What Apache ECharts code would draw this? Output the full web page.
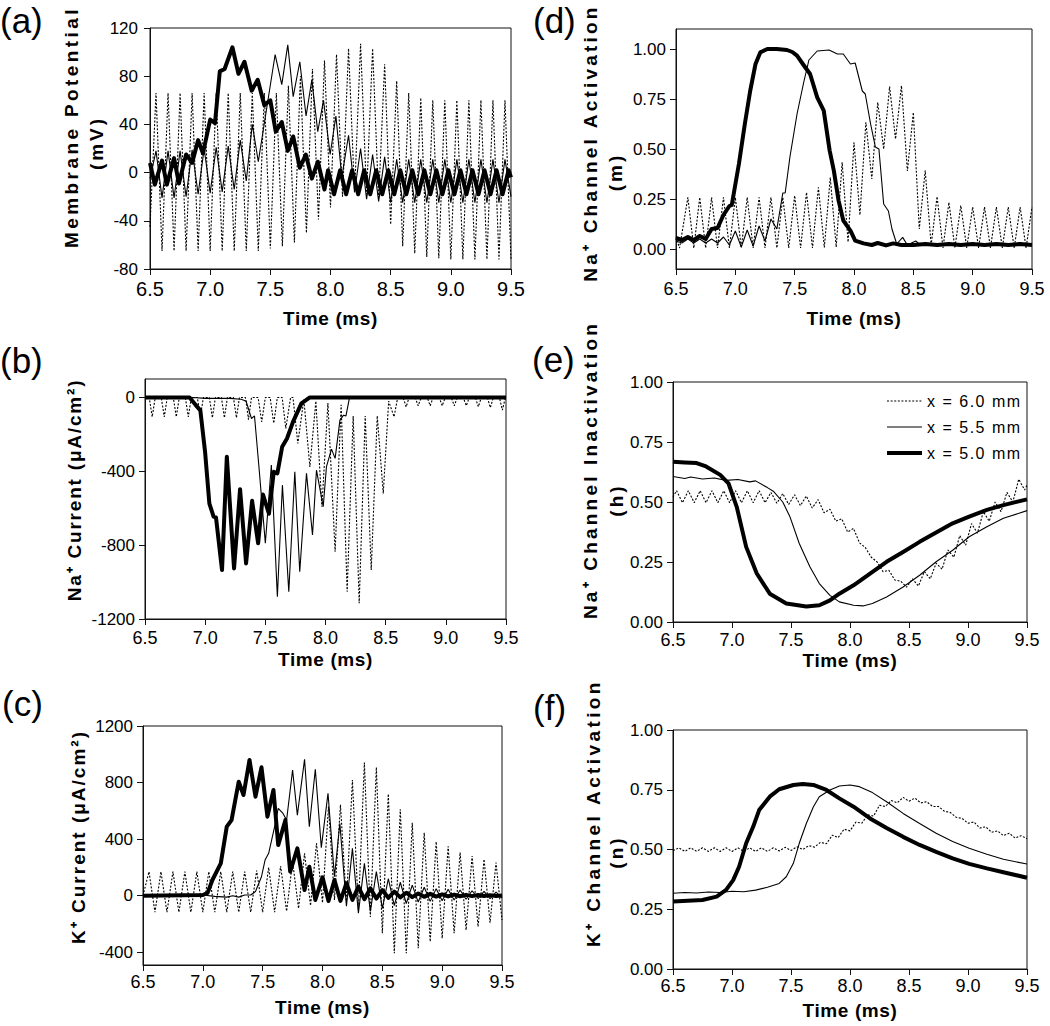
<!DOCTYPE html>
<html><head><meta charset="utf-8">
<script src="https://cdn.jsdelivr.net/npm/echarts@6/dist/echarts.min.js"></script>
<style>html,body{margin:0;padding:0;background:#fff}#c{width:1050px;height:1026px}</style>
</head><body><div id="c"></div>
<script>
// ---------- data ----------
const seriesNames = ['x = 6.0 mm', 'x = 5.5 mm', 'x = 5.0 mm'];
const timeTicks = [6.5, 7.0, 7.5, 8.0, 8.5, 9.0, 9.5];
const aTicks = [-80, -40, 0, 40, 80, 120];
const bTicks = [-1200, -800, -400, 0];
const cTicks = [-400, 0, 400, 800, 1200];
const gateTicks = [0, 0.25, 0.5, 0.75, 1.0];

// (a) membrane potential
const aDot = [[6.5,-45],[6.55,66],[6.6,-65],[6.65,66],[6.7,-65],[6.75,66],[6.8,-65],[6.85,66],[6.9,-65],[6.95,66],[7.0,-65],[7.05,66],[7.1,-65],[7.15,66],[7.2,-65],[7.25,66],[7.3,-65],[7.35,66],[7.4,-65],[7.45,66],[7.5,-63],[7.55,66],[7.6,-61],[7.65,72],[7.7,-58],[7.75,80],[7.8,-50],[7.85,86],[7.9,-39],[7.95,93],[8.0,-29],[8.05,98],[8.1,-20],[8.15,103],[8.2,-17],[8.25,107],[8.3,-18],[8.35,103],[8.4,-22],[8.45,90],[8.5,-43],[8.55,76],[8.6,-61],[8.65,66],[8.7,-67],[8.75,62],[8.8,-70],[8.85,60],[8.9,-71],[8.95,60],[9.0,-72],[9.05,60],[9.1,-72],[9.15,60],[9.2,-72],[9.25,60],[9.3,-72],[9.35,60],[9.4,-72],[9.45,60],[9.5,-72]];
const aThin = [[6.5,-5],[6.55,18],[6.6,-21],[6.65,18],[6.7,-21],[6.75,18],[6.8,-20],[6.85,19],[6.9,-18],[6.95,20],[7.0,-17],[7.05,21],[7.1,-16],[7.15,22],[7.2,-14],[7.25,27],[7.3,-7],[7.35,40],[7.4,9],[7.54,98],[7.595,73],[7.645,106],[7.69,63],[7.745,92],[7.797,47],[7.845,77],[7.894,34],[7.942,60],[7.997,15],[8.045,47],[8.094,-4],[8.15,31],[8.2,-16],[8.25,20],[8.3,-22],[8.35,15],[8.4,-24],[8.45,13],[8.5,-25],[8.55,11],[8.6,-25],[8.65,11],[8.7,-25],[8.75,11],[8.8,-25],[8.85,11],[8.9,-25],[8.95,11],[9.0,-25],[9.05,11],[9.1,-25],[9.15,11],[9.2,-25],[9.25,11],[9.3,-25],[9.35,11],[9.4,-25],[9.45,11],[9.5,-20]];
const aThick = [[6.5,8],[6.54,-10],[6.6,10],[6.64,-10],[6.7,12],[6.74,-9],[6.8,15],[6.85,8],[6.9,27],[6.94,16],[7.0,44],[7.04,41],[7.08,84],[7.12,86],[7.185,104],[7.235,82],[7.285,92],[7.345,68],[7.395,77],[7.45,56],[7.5,60],[7.545,34],[7.595,42],[7.645,18],[7.69,30],[7.745,4],[7.795,15],[7.845,-5],[7.895,9],[7.95,-14],[7.98,2],[8.03,-18],[8.08,2],[8.13,-18],[8.18,2],[8.23,-18],[8.28,2],[8.33,-18],[8.38,2],[8.43,-18],[8.48,2],[8.53,-18],[8.58,2],[8.63,-18],[8.68,2],[8.73,-18],[8.78,2],[8.83,-18],[8.88,2],[8.93,-18],[8.98,2],[9.03,-18],[9.08,2],[9.13,-18],[9.18,2],[9.23,-18],[9.28,2],[9.33,-18],[9.38,2],[9.43,-18],[9.48,2],[9.5,-4]];

// (b) Na current
const bDot = [[6.5,0],[6.535,0],[6.56,-105],[6.585,0],[6.635,0],[6.66,-105],[6.685,0],[6.735,0],[6.76,-105],[6.785,0],[6.835,0],[6.86,-105],[6.885,0],[6.935,0],[6.96,-105],[6.985,0],[7.035,0],[7.06,-110],[7.085,0],[7.135,0],[7.16,-110],[7.185,0],[7.235,0],[7.26,-110],[7.285,0],[7.335,0],[7.36,-120],[7.385,0],[7.44,0],[7.47,-132],[7.5,0],[7.54,0],[7.57,-140],[7.6,0],[7.64,0],[7.67,-168],[7.71,0],[7.73,0],[7.77,-249],[7.82,-10],[7.87,-376],[7.92,-20],[7.97,-592],[8.02,-30],[8.08,-836],[8.13,-40],[8.18,-1052],[8.23,-100],[8.28,-1115],[8.33,-100],[8.38,-935],[8.43,-100],[8.48,-520],[8.525,-20],[8.57,-105],[8.6,0],[8.645,0],[8.67,-51],[8.695,0],[8.745,0],[8.77,-45],[8.795,0],[8.845,0],[8.87,-45],[8.895,0],[8.945,0],[8.97,-45],[8.995,0],[9.045,0],[9.07,-45],[9.095,0],[9.145,0],[9.17,-45],[9.195,0],[9.245,0],[9.27,-50],[9.295,0],[9.345,0],[9.37,-55],[9.395,0],[9.445,0],[9.47,-69],[9.495,0],[9.5,0]];
const bThin = [[6.5,0],[6.6,-5],[6.7,0],[6.8,-5],[6.9,0],[7.0,-5],[7.1,-5],[7.2,-5],[7.3,-10],[7.34,-20],[7.385,-114],[7.41,-100],[7.45,-400],[7.5,-790],[7.55,-366],[7.6,-1079],[7.642,-475],[7.695,-1052],[7.745,-403],[7.786,-944],[7.842,-411],[7.892,-745],[7.925,-394],[7.981,-592],[8.008,-375],[8.05,-280],[8.08,-330],[8.12,-123],[8.15,-96],[8.17,-100],[8.2,0],[9.5,0]];
const bThick = [[6.5,0],[6.87,0],[6.92,-40],[6.96,-70],[7.0,-300],[7.035,-575],[7.07,-645],[7.09,-650],[7.14,-935],[7.18,-321],[7.24,-926],[7.29,-497],[7.34,-899],[7.39,-560],[7.44,-790],[7.48,-525],[7.53,-630],[7.57,-403],[7.6,-411],[7.64,-267],[7.68,-222],[7.73,-132],[7.8,-32],[7.87,0],[9.5,0]];

// (c) K current
const cDot = [[6.5,0],[6.55,170],[6.6,-117],[6.65,170],[6.7,-117],[6.75,170],[6.8,-117],[6.85,170],[6.9,-117],[6.95,170],[7.0,-117],[7.05,170],[7.1,-117],[7.15,170],[7.2,-117],[7.25,170],[7.3,-117],[7.35,170],[7.4,-117],[7.45,178],[7.5,-117],[7.55,200],[7.6,-117],[7.65,210],[7.7,-110],[7.75,240],[7.8,-90],[7.85,300],[7.9,-70],[7.95,370],[8.0,-50],[8.05,631],[8.1,-30],[8.15,643],[8.2,-50],[8.25,818],[8.3,-100],[8.35,941],[8.4,-150],[8.45,908],[8.5,-266],[8.55,720],[8.6,-407],[8.65,611],[8.7,-407],[8.75,516],[8.8,-372],[8.85,445],[8.9,-325],[8.95,382],[9.0,-302],[9.05,349],[9.1,-266],[9.15,306],[9.2,-243],[9.25,281],[9.3,-219],[9.35,258],[9.4,-191],[9.45,234],[9.5,-172]];
const cThin = [[6.5,0],[6.6,2],[6.7,0],[6.8,2],[6.9,0],[7.0,5],[7.1,-5],[7.2,-10],[7.25,0],[7.3,-10],[7.35,5],[7.4,5],[7.44,30],[7.49,134],[7.52,252],[7.55,300],[7.6,488],[7.63,618],[7.67,582],[7.7,535],[7.75,889],[7.79,570],[7.85,964],[7.89,488],[7.94,894],[7.99,340],[8.046,724],[8.1,134],[8.145,512],[8.2,-75],[8.25,335],[8.3,-124],[8.35,229],[8.4,-111],[8.45,170],[8.5,-90],[8.55,120],[8.6,-70],[8.65,95],[8.7,-55],[8.75,75],[8.8,-45],[8.85,60],[8.9,-40],[8.95,50],[9.0,-35],[9.05,45],[9.1,-30],[9.15,40],[9.2,-25],[9.25,35],[9.3,-20],[9.35,30],[9.4,-20],[9.45,25],[9.5,-15]];
const cThick = [[6.5,0],[7.0,5],[7.04,20],[7.08,111],[7.15,229],[7.2,488],[7.24,535],[7.3,806],[7.34,712],[7.39,960],[7.44,700],[7.49,908],[7.54,559],[7.59,748],[7.63,358],[7.69,535],[7.73,170],[7.79,335],[7.85,40],[7.89,205],[7.94,-30],[8.0,130],[8.05,-37],[8.1,111],[8.15,-37],[8.2,88],[8.25,-30],[8.3,64],[8.35,-25],[8.4,52],[8.45,-20],[8.5,40],[8.55,-15],[8.6,29],[8.65,-12],[8.7,21],[8.75,-10],[8.8,16],[8.85,-8],[8.9,13],[8.95,-6],[9.0,10],[9.05,-5],[9.1,8],[9.15,-4],[9.2,6],[9.25,-3],[9.3,5],[9.35,-2],[9.4,4],[9.45,-2],[9.5,2]];

// (d) Na activation m
const dDot = [[6.5,0.06],[6.53,0.005],[6.6,0.258],[6.65,0.005],[6.7,0.258],[6.75,0.005],[6.8,0.258],[6.85,0.005],[6.9,0.258],[6.95,0.005],[7.0,0.258],[7.05,0.005],[7.1,0.258],[7.15,0.005],[7.2,0.258],[7.25,0.005],[7.3,0.258],[7.35,0.005],[7.4,0.258],[7.45,0.005],[7.5,0.267],[7.55,0.005],[7.6,0.283],[7.65,0.005],[7.7,0.308],[7.75,0.008],[7.8,0.358],[7.85,0.01],[7.9,0.433],[7.95,0.035],[8.0,0.533],[8.05,0.17],[8.1,0.633],[8.15,0.35],[8.2,0.733],[8.25,0.5],[8.3,0.812],[8.35,0.55],[8.4,0.817],[8.45,0.39],[8.5,0.683],[8.55,0.1],[8.6,0.392],[8.65,0.02],[8.7,0.262],[8.75,0.005],[8.8,0.233],[8.85,0.005],[8.9,0.217],[8.95,0.005],[9.0,0.21],[9.05,0.005],[9.1,0.21],[9.15,0.005],[9.2,0.21],[9.25,0.005],[9.3,0.21],[9.35,0.005],[9.4,0.21],[9.45,0.005],[9.5,0.21]];
const dThin = [[6.5,0.04],[6.55,0.03],[6.6,0.05],[6.65,0.03],[6.7,0.05],[6.75,0.03],[6.8,0.05],[6.85,0.03],[6.9,0.06],[6.95,0.02],[7.0,0.09],[7.05,0.01],[7.1,0.095],[7.15,0.015],[7.2,0.115],[7.25,0.04],[7.3,0.15],[7.35,0.1],[7.4,0.28],[7.42,0.28],[7.46,0.46],[7.52,0.675],[7.575,0.83],[7.62,0.945],[7.69,0.99],[7.79,0.995],[7.86,0.975],[7.91,0.975],[7.97,0.925],[8.01,0.93],[8.07,0.79],[8.095,0.775],[8.14,0.625],[8.18,0.51],[8.21,0.5],[8.25,0.225],[8.29,0.19],[8.32,0.1],[8.36,0.025],[8.41,0.058],[8.45,0.02],[8.52,0.04],[8.56,0.02],[9.5,0.02]];
const dThick = [[6.5,0.055],[6.55,0.045],[6.6,0.06],[6.65,0.045],[6.7,0.065],[6.75,0.05],[6.8,0.1],[6.85,0.105],[6.9,0.17],[6.95,0.215],[6.97,0.22],[7.03,0.425],[7.08,0.625],[7.125,0.79],[7.17,0.925],[7.21,0.983],[7.27,1.0],[7.35,1.0],[7.435,0.995],[7.48,0.985],[7.52,0.967],[7.575,0.92],[7.63,0.875],[7.69,0.758],[7.745,0.692],[7.795,0.492],[7.83,0.392],[7.87,0.242],[7.91,0.142],[7.97,0.092],[8.01,0.042],[8.08,0.028],[8.15,0.02],[8.2,0.03],[8.27,0.018],[8.33,0.028],[8.4,0.02],[8.5,0.02],[8.6,0.025],[8.7,0.02],[8.8,0.025],[8.9,0.02],[9.0,0.025],[9.1,0.02],[9.2,0.025],[9.3,0.02],[9.4,0.025],[9.5,0.02]];

// (e) Na inactivation h
const eDot = [[6.5,0.52],[6.53,0.547],[6.58,0.497],[6.63,0.547],[6.68,0.497],[6.73,0.547],[6.78,0.497],[6.83,0.547],[6.88,0.497],[6.93,0.547],[6.98,0.497],[7.03,0.547],[7.08,0.497],[7.13,0.547],[7.18,0.497],[7.23,0.547],[7.28,0.497],[7.33,0.54],[7.38,0.495],[7.43,0.535],[7.48,0.49],[7.53,0.53],[7.58,0.485],[7.63,0.525],[7.68,0.475],[7.73,0.51],[7.78,0.455],[7.83,0.47],[7.88,0.42],[7.93,0.43],[7.98,0.375],[8.03,0.39],[8.08,0.33],[8.13,0.31],[8.18,0.27],[8.23,0.25],[8.28,0.21],[8.33,0.215],[8.38,0.175],[8.43,0.17],[8.48,0.145],[8.53,0.18],[8.58,0.15],[8.63,0.21],[8.68,0.18],[8.73,0.245],[8.78,0.22],[8.83,0.3],[8.88,0.27],[8.93,0.36],[8.98,0.32],[9.03,0.41],[9.08,0.37],[9.13,0.46],[9.18,0.42],[9.23,0.5],[9.28,0.46],[9.33,0.54],[9.38,0.5],[9.43,0.595],[9.48,0.55],[9.5,0.57]];
const eThin = [[6.5,0.606],[6.6,0.598],[6.65,0.604],[6.75,0.596],[6.85,0.6],[6.95,0.59],[7.05,0.594],[7.15,0.584],[7.2,0.588],[7.3,0.56],[7.35,0.545],[7.43,0.5],[7.49,0.44],[7.57,0.327],[7.66,0.23],[7.74,0.16],[7.83,0.111],[7.91,0.084],[8.03,0.07],[8.11,0.067],[8.19,0.077],[8.31,0.104],[8.45,0.146],[8.59,0.195],[8.73,0.251],[8.87,0.299],[9.01,0.355],[9.16,0.397],[9.3,0.432],[9.5,0.464]];
const eThick = [[6.5,0.668],[6.6,0.665],[6.7,0.662],[6.78,0.648],[6.9,0.613],[6.97,0.578],[7.04,0.48],[7.12,0.313],[7.21,0.202],[7.32,0.118],[7.46,0.077],[7.63,0.065],[7.74,0.07],[7.83,0.09],[7.91,0.118],[8.03,0.153],[8.17,0.202],[8.31,0.251],[8.45,0.292],[8.59,0.334],[8.73,0.373],[8.87,0.411],[9.01,0.439],[9.16,0.467],[9.3,0.487],[9.5,0.511]];

// (f) K activation n
const fDot = [[6.5,0.495],[6.55,0.507],[6.6,0.492],[6.65,0.507],[6.7,0.492],[6.75,0.507],[6.8,0.492],[6.85,0.507],[6.9,0.492],[6.95,0.507],[7.0,0.492],[7.05,0.507],[7.1,0.492],[7.15,0.507],[7.2,0.492],[7.25,0.507],[7.3,0.492],[7.35,0.507],[7.4,0.494],[7.45,0.509],[7.5,0.496],[7.55,0.511],[7.6,0.5],[7.65,0.516],[7.7,0.51],[7.75,0.53],[7.8,0.524],[7.85,0.56],[7.9,0.55],[7.95,0.585],[8.0,0.578],[8.05,0.615],[8.1,0.61],[8.15,0.645],[8.2,0.64],[8.25,0.685],[8.3,0.68],[8.35,0.705],[8.4,0.695],[8.45,0.718],[8.5,0.702],[8.55,0.715],[8.6,0.695],[8.65,0.7],[8.7,0.68],[8.75,0.68],[8.8,0.66],[8.85,0.655],[8.9,0.635],[8.95,0.63],[9.0,0.61],[9.05,0.615],[9.1,0.59],[9.15,0.595],[9.2,0.572],[9.25,0.578],[9.3,0.558],[9.35,0.568],[9.4,0.548],[9.45,0.558],[9.5,0.545]];
const fThin = [[6.5,0.317],[6.6,0.32],[6.7,0.318],[6.8,0.322],[6.9,0.32],[7.0,0.325],[7.1,0.323],[7.2,0.33],[7.3,0.342],[7.4,0.358],[7.46,0.386],[7.52,0.442],[7.57,0.526],[7.63,0.609],[7.69,0.679],[7.74,0.721],[7.83,0.749],[7.91,0.766],[8.0,0.77],[8.08,0.763],[8.19,0.738],[8.31,0.7],[8.45,0.651],[8.59,0.609],[8.73,0.568],[8.87,0.533],[9.01,0.505],[9.16,0.48],[9.3,0.459],[9.5,0.439]];
const fThick = [[6.5,0.282],[6.75,0.289],[6.87,0.303],[6.95,0.331],[7.01,0.372],[7.06,0.428],[7.12,0.526],[7.18,0.596],[7.23,0.665],[7.32,0.721],[7.4,0.752],[7.52,0.77],[7.6,0.774],[7.69,0.77],[7.8,0.749],[7.91,0.714],[8.03,0.679],[8.17,0.63],[8.31,0.59],[8.45,0.553],[8.59,0.519],[8.73,0.49],[8.87,0.463],[9.01,0.44],[9.16,0.421],[9.3,0.405],[9.5,0.382]];

// ---------- layout / style ----------
const FONT = "'Liberation Sans',Arial,sans-serif";
const INK = '#111';

const panels = [
  {grid:{left:150,top:28,width:361,height:241}, ymin:-80, ymax:120, ticks:aTicks, dec:0, xfs:20, xm:10, ym:12, gap:40, data:[aDot,aThin,aThick]},
  {grid:{left:676,top:29,width:356,height:240}, ymin:-0.1, ymax:1.1, ticks:gateTicks, dec:2, xfs:18, xm:11, ym:10, gap:40, data:[dDot,dThin,dThick]},
  {grid:{left:145,top:379,width:361,height:240}, ymin:-1200, ymax:100, ticks:bTicks, dec:0, xfs:18, xm:10, ym:10, gap:31, data:[bDot,bThin,bThick]},
  {grid:{left:673,top:382,width:354,height:240}, ymin:0, ymax:1, ticks:gateTicks, dec:2, xfs:18, xm:9, ym:10, gap:29, data:[eDot,eThin,eThick]},
  {grid:{left:143,top:726,width:359,height:239}, ymin:-490, ymax:1200, ticks:cTicks, dec:0, xfs:18, xm:8, ym:10, gap:33, data:[cDot,cThin,cThick]},
  {grid:{left:673,top:730,width:354,height:239}, ymin:0, ymax:1, ticks:gateTicks, dec:2, xfs:18, xm:8, ym:10, gap:32, data:[fDot,fThin,fThick]}
];

const lineStyles = [
  {color:'#000', width:1.1, type:[2,1.6]},
  {color:'#000', width:1.1, type:'solid'},
  {color:'#000', width:4, type:'solid', join:'round'}
];

const grids = [], xAxes = [], yAxes = [], series = [];
panels.forEach((p, i) => {
  grids.push(Object.assign({show:true, borderColor:INK, borderWidth:1, backgroundColor:'transparent'}, p.grid));
  xAxes.push({
    type:'value', gridIndex:i, min:6.5, max:9.5, interval:0.5,
    axisLine:{show:true, onZero:false, lineStyle:{color:INK, width:1}},
    axisTick:{show:true, inside:false, length:6, lineStyle:{color:INK}},
    splitLine:{show:false},
    axisLabel:{color:'#000', fontSize:p.xfs, fontFamily:FONT, margin:p.xm, formatter:v=>v.toFixed(1)},
    name:'Time (ms)', nameLocation:'middle', nameGap:p.gap,
    nameTextStyle:{color:'#000', fontSize:19, fontWeight:'bold', fontFamily:FONT}
  });
  yAxes.push({
    type:'value', gridIndex:i, min:p.ymin, max:p.ymax,
    axisLine:{show:true, onZero:false, lineStyle:{color:INK, width:1}},
    axisTick:{show:true, inside:false, length:6, lineStyle:{color:INK}, customValues:p.ticks},
    splitLine:{show:false},
    axisLabel:{color:'#000', fontSize:17, fontFamily:FONT, margin:p.ym, customValues:p.ticks,
               formatter:v=>Number(v).toFixed(p.dec)}
  });
  p.data.forEach((d, j) => {
    series.push({
      type:'line', name:seriesNames[j], xAxisIndex:i, yAxisIndex:i, data:d,
      symbol:'none', showSymbol:false, smooth:false, clip:true, silent:true,
      itemStyle:{color:'#000'},
      lineStyle:lineStyles[j], z: 2 + j
    });
  });
});

const titleFont = {fontWeight:'bold', fontSize:19, fontFamily:FONT, fill:'#000', align:'center', verticalAlign:'middle'};
function vText(x, y, text) {
  return {type:'text', x:x, y:y, rotation:Math.PI/2, silent:true, style:Object.assign({text:text}, titleFont)};
}
function pLabel(x, y, text) {
  return {type:'text', x:x, y:y, silent:true, style:{text:text, fontSize:35, fontFamily:FONT, fill:'#000', align:'left', verticalAlign:'middle'}};
}

const graphics = [
  pLabel(0, 20, '(a)'), pLabel(533, 20, '(d)'),
  pLabel(0, 360, '(b)'), pLabel(532, 359, '(e)'),
  pLabel(2, 703, '(c)'), pLabel(533, 707, '(f)'),
  vText(71, 127, 'Membrane Potential'), vText(96, 143, '(mV)'),
  vText(590, 143, 'Na\u207A Channel Activation'), vText(615, 172, '(m)'),
  vText(74, 490, 'Na\u207A Current (\u03BCA/cm\u00B2)'),
  vText(590, 470, 'Na\u207A Channel Inactivation'), vText(616, 500, '(h)'),
  vText(78, 837, 'K\u207A Current (\u03BCA/cm\u00B2)'),
  vText(593, 813, 'K\u207A Channel Activation'), vText(616, 852, '(n)')
];

const option = {
  animation:false,
  backgroundColor:'#fff',
  grid:grids, xAxis:xAxes, yAxis:yAxes, series:series,
  legend:{
    data:seriesNames, left:880, top:388, orient:'vertical', selectedMode:false,
    itemWidth:35, itemHeight:12, itemGap:10,
    itemStyle:{opacity:0},
    lineStyle:{width:'inherit', color:'#000'},
    textStyle:{color:'#000', fontSize:16, fontFamily:FONT}
  },
  graphic:graphics
};

const chart = echarts.init(document.getElementById('c'), null, {renderer:'svg', width:1050, height:1026});
chart.setOption(option);

// letter spacing of the spaced-out labels, as in the original figure
const spacing = {
  'Membrane Potential':3.4, '(mV)':3, 'Na\u207A Channel Activation':3.2, '(m)':3,
  'Na\u207A Current (\u03BCA/cm\u00B2)':1.8, 'Na\u207A Channel Inactivation':3.2, '(h)':3,
  'K\u207A Current (\u03BCA/cm\u00B2)':2, 'K\u207A Channel Activation':3.4, '(n)':3,
  'Time (ms)':0.6, 'x = 6.0 mm':1.5, 'x = 5.5 mm':1.5, 'x = 5.0 mm':1.5
};
function applySpacing() {
  document.querySelectorAll('#c svg text').forEach(t => {
    const s = spacing[t.textContent];
    if (s != null) t.setAttribute('letter-spacing', s);
  });
}
applySpacing();
chart.on('finished', applySpacing);
setTimeout(applySpacing, 50);
</script>
</body></html>
